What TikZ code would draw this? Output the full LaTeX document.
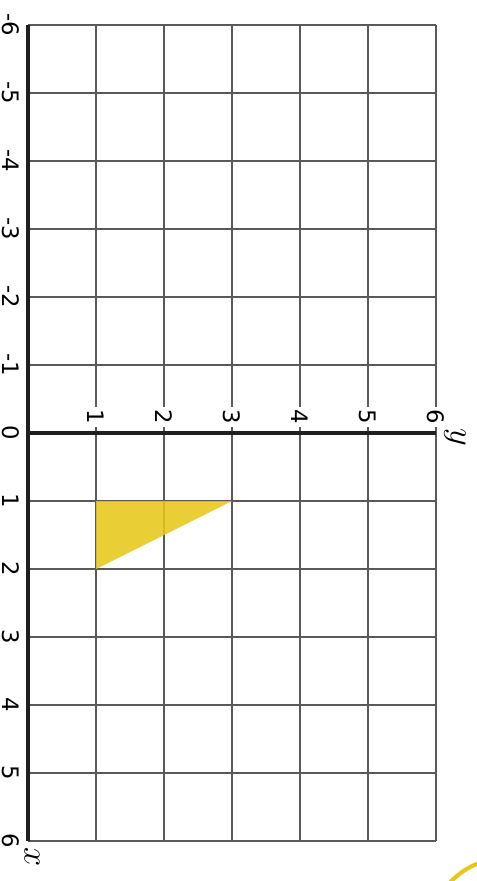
\documentclass[tikz,border=0pt]{standalone}
\usepackage{fontspec}
\setmainfont{DejaVu Sans}
\begin{document}
\begin{tikzpicture}[
    font=\fontsize{9.5}{11}\selectfont,
    gridline/.style={draw=black!65, line width=0.022cm},
    axis/.style={draw=black!88, line width=0.06cm},
    ticklabel/.style={rotate=-90, fill=white, inner sep=1pt},
    axislabel/.style={rotate=-90, inner sep=0pt},
    varlabel/.style={rotate=-90, inner sep=0pt, font=\fontsize{14}{16}\selectfont},
    triarea/.style={fill=yellow!75!orange!90!black, fill opacity=0.88},
    ring/.style={draw=yellow!75!orange!90!black, line width=0.06cm}
]
    \useasboundingbox (-0.4118,-6.588) rectangle (6.603,6.368);
    \clip (-0.4118,-6.588) rectangle (6.603,6.368);

    % Grid
    \foreach \u in {1,...,6} \draw[gridline] (\u,6) -- (\u,-6);
    \foreach \v in {-6,...,6} \draw[gridline] (0,\v) -- (6,\v);

    % Triangle
    \fill[triarea] (1,-1) -- (3,-1) -- (1,-2) -- cycle;

    % Axes
    \draw[axis] (0,6) -- (0,-6);
    \draw[axis] (0,0) -- (6,0);

    % Tick labels
    \foreach \u in {1,...,6} \node[ticklabel] (ty\u) at (\u,0.235) {\u};
    \foreach \v in {-6,...,6} \node[axislabel] (tx\v) at (-0.257,-\v) {\v};

    % Axis labels
    \node[varlabel] (ylab) at (6.28,-0.06) {$y$};
    \node[varlabel] (xlab) at (0.06,-6.235) {$x$};

    % Ring
    \draw[ring] (7.03,-7.37) circle (1.12);
\end{tikzpicture}
\end{document}
